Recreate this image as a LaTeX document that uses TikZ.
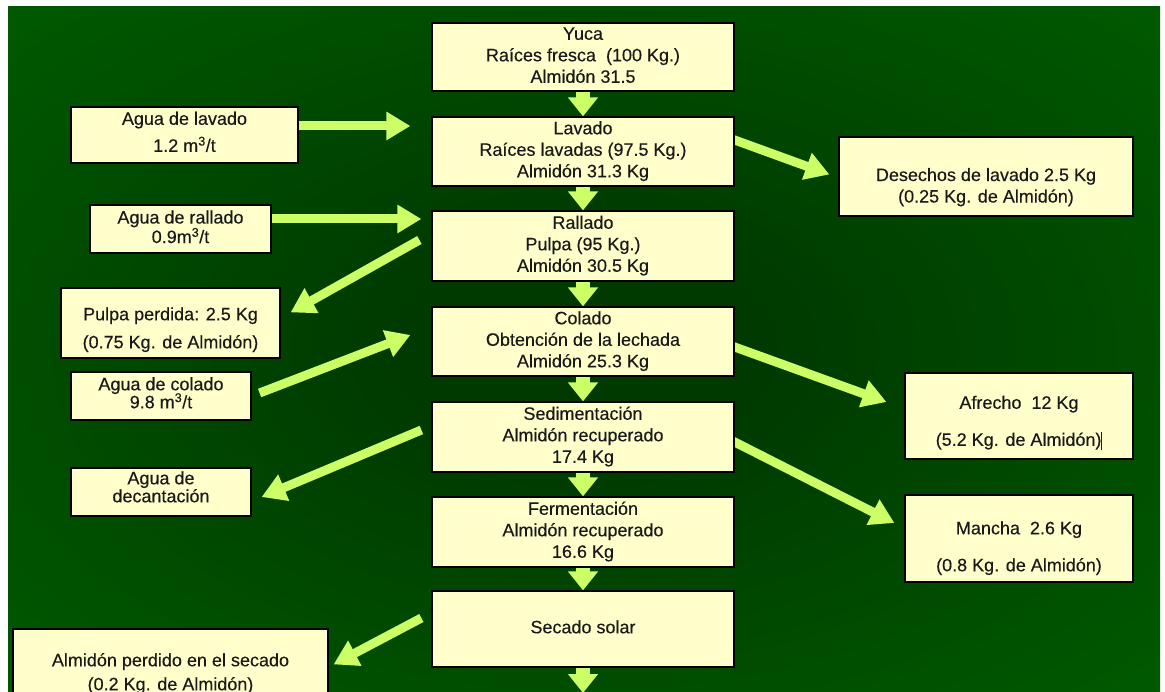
\documentclass[tikz,border=0pt]{standalone}
\usepackage{fontspec}
\setmainfont{Liberation Sans}[FakeBold=0.25]
\usetikzlibrary{arrows.meta,calc,shadings}
\definecolor{boxfill}{HTML}{FFFFCC}
\definecolor{arrowgreen}{HTML}{CCFF66}
\definecolor{bgdark}{RGB}{0,58,0}
\definecolor{bgedge}{RGB}{0,102,0}
\pgfdeclareradialshading{bgshade}{\pgfpoint{0bp}{0bp}}{color(0bp)=(bgdark); color(8bp)=(bgdark); color(46bp)=(bgedge); color(75bp)=(bgedge)}
\pgfdeclarelayer{bglayer}
\pgfdeclarelayer{arrowlayer}
\pgfsetlayers{bglayer,arrowlayer,main}
\newcommand{\bt}[2]{\raisebox{#1}[\height][\depth]{\begin{tabular}{@{}c@{}}#2\end{tabular}}}
\tikzset{
  box/.style={draw=black, line width=1.2pt, fill=boxfill, inner sep=0pt,
    font=\fontsize{18}{21.5}\selectfont, text=black!90},
  flow/.style={draw=arrowgreen, line width=14pt, -{Triangle[width=29pt,length=19pt]}},
  side/.style={draw=arrowgreen, line width=9pt, -{Triangle[width=27pt,length=24pt]}},
  fromedge/.style={shorten <=-5pt}
}
\begin{document}
\begin{tikzpicture}[x=1pt,y=-1pt]
\useasboundingbox (0,0) rectangle (1165,692);
\begin{pgfonlayer}{bglayer}
\shade[shading=bgshade] (8,7) rectangle (1160,692);
\end{pgfonlayer}

% main column
\node[box, minimum width=302pt, minimum height=68pt] (yuca) at (583,57)
  {\bt{0pt}{Yuca\\Raíces fresca~~(100 Kg.)\\Almidón 31.5}};
\node[box, minimum width=302pt, minimum height=69pt] (lavado) at (583,151.5)
  {\bt{0pt}{Lavado\\Raíces lavadas (97.5 Kg.)\\Almidón 31.3 Kg}};
\node[box, minimum width=302pt, minimum height=70pt] (rallado) at (583,246)
  {\bt{0pt}{Rallado\\Pulpa (95 Kg.)\\Almidón 30.5 Kg}};
\node[box, minimum width=302pt, minimum height=69pt] (colado) at (583,341.5)
  {\bt{0pt}{Colado\\Obtención de la lechada\\Almidón 25.3 Kg}};
\node[box, minimum width=302pt, minimum height=70pt] (sed) at (583,437)
  {\bt{0pt}{Sedimentación\\Almidón recuperado\\17.4 Kg}};
\node[box, minimum width=302pt, minimum height=70pt] (ferm) at (583,532)
  {\bt{0pt}{Fermentación\\Almidón recuperado\\16.6 Kg}};
\node[box, minimum width=302pt, minimum height=76pt] (secado) at (583,629)
  {\bt{0pt}{Secado solar}};

% left column
\node[box, minimum width=227pt, minimum height=56pt] (aguaLav) at (184.5,135)
  {\bt{1pt}{Agua de lavado\\[5.5pt]1.2 m\textsuperscript{3}/t}};
\node[box, minimum width=181pt, minimum height=48pt] (aguaRall) at (180.5,229)
  {\bt{0pt}{Agua de rallado\\[-2pt]0.9m\textsuperscript{3}/t}};
\node[box, minimum width=219pt, minimum height=70pt] (pulpa) at (170.5,323)
  {\bt{-7pt}{Pulpa perdida: 2.5 Kg\\[6.5pt](0.75 Kg. de Almidón)}};
\node[box, minimum width=180pt, minimum height=48pt] (aguaCol) at (161,396)
  {\bt{1pt}{Agua de colado\\[-3.5pt]9.8 m\textsuperscript{3}/t}};
\node[box, minimum width=180pt, minimum height=48pt] (decant) at (161,492)
  {\bt{3pt}{Agua de\\[-3.5pt]decantación}};
\node[box, minimum width=315pt, minimum height=90pt] (perdido) at (170.5,674)
  {\bt{0pt}{Almidón perdido en el secado\\[2.5pt](0.2 Kg. de Almidón)}};

% right column
\node[box, minimum width=294pt, minimum height=79pt] (desechos) at (986,176.5)
  {\bt{-11pt}{Desechos de lavado 2.5 Kg\\[0pt](0.25 Kg. de Almidón)}};
\node[box, minimum width=228pt, minimum height=86pt] (afrecho) at (1019,416)
  {\bt{-7pt}{Afrecho~~12 Kg\\[15.5pt](5.2 Kg. de Almidón)\rule[-4pt]{0.8pt}{18pt}}};
\node[box, minimum width=228pt, minimum height=87pt] (mancha) at (1019,538.5)
  {\bt{-10pt}{Mancha~~2.6 Kg\\[15.5pt](0.8 Kg. de Almidón)}};

\coordinate (out) at (583,693);

\begin{pgfonlayer}{arrowlayer}
% down flow
\draw[flow] (yuca.south) -- (lavado.north);
\draw[flow] (lavado.south) -- (rallado.north);
\draw[flow] (rallado.south) -- (colado.north);
\draw[flow] (colado.south) -- (sed.north);
\draw[flow] (sed.south) -- (ferm.north);
\draw[flow] (ferm.south) -- (secado.north);
\draw[flow] (secado.south) -- (out);
% side arrows
\draw[side, fromedge] ($(aguaLav.east)+(0,-9)$) -- ($(lavado.west)+(-21,-25.5)$);
\draw[side, fromedge] ($(aguaRall.east)+(0,-10)$) -- ($(rallado.west)+(-10,-27)$);
\draw[side] ($(rallado.west)+(-12,-6)$) -- ($(pulpa.north east)+(10,25)$);
\draw[side] ($(aguaCol.east)+(8,-3)$) -- ($(colado.west)+(-21,-6.5)$);
\draw[side] ($(sed.west)+(-10,-7)$) -- ($(decant.east)+(10,5)$);
\draw[side] ($(secado.west)+(-10,-11)$) -- ($(perdido.north east)+(5,36)$);
\draw[side, fromedge] ($(lavado.east)+(0,-11.5)$) -- ($(desechos.west)+(-9,-2)$);
\draw[side, fromedge] ($(colado.east)+(0,5.5)$) -- ($(afrecho.west)+(-18,-14)$);
\draw[side, fromedge] ($(sed.east)+(0,5)$) -- ($(mancha.west)+(-10,-15.5)$);
\end{pgfonlayer}
\end{tikzpicture}
\end{document}
